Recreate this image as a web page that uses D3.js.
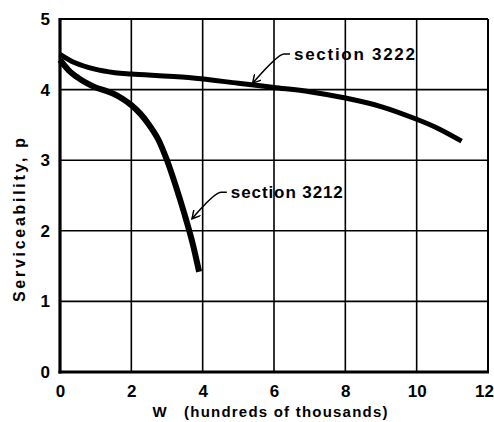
<!DOCTYPE html>
<html>
<head>
<meta charset="utf-8">
<script src="https://cdn.jsdelivr.net/npm/d3@7/dist/d3.min.js"></script>
<style>
  html, body { margin: 0; padding: 0; background: #fff; }
  svg { display: block; }
  text { font-family: "Liberation Sans", Arial, sans-serif; font-weight: bold; fill: #000; }
</style>
</head>
<body>
<svg id="chart" width="494" height="422"></svg>
<script>
// Load applications W (hundreds of thousands) and serviceability p
const w3222 = [0, 0.42, 0.98, 1.54, 2, 3.6, 5, 6, 7, 8, 9, 10, 10.6, 11.26];
const p3222 = [4.5, 4.38, 4.29, 4.24, 4.22, 4.17, 4.09, 4.03, 3.97, 3.88, 3.76, 3.58, 3.45, 3.27];

const w3212 = [0, 0.25, 0.5, 0.75, 1.0, 1.25, 1.5, 1.75, 2.0, 2.25, 2.5, 2.75, 3.0, 3.25, 3.5, 3.7, 3.9];
const p3212 = [4.42, 4.27, 4.17, 4.09, 4.03, 3.99, 3.94, 3.87, 3.78, 3.66, 3.5, 3.3, 3.0, 2.63, 2.22, 1.86, 1.42];

const xTicks = [0, 2, 4, 6, 8, 10, 12];
const yTicks = [0, 1, 2, 3, 4, 5];
const xTickLabels = ["0", "2", "4", "6", "8", "10", "12"];
const yTickLabels = ["0", "1", "2", "3", "4", "5"];

// Curve labels: text anchor and arrow tip, both in data units
const labelNames = ["section 3222", "section 3212"];
const labelW = [6.56, 4.79];
const labelP = [4.42, 2.46];
const tipW = [5.4, 3.7];
const tipP = [4.09, 2.17];

const svg = d3.select("#chart");
const x = d3.scaleLinear().domain([0, 12]).range([60, 488]);
const y = d3.scaleLinear().domain([0, 5]).range([372, 19]);

// grid
const grid = svg.append("g");
grid.selectAll("line.v").data(xTicks.slice(1, -1)).join("line")
  .attr("x1", d => x(d)).attr("x2", d => x(d))
  .attr("y1", y(5)).attr("y2", y(0))
  .attr("stroke", "#000").attr("stroke-width", 1.6);
grid.selectAll("line.h").data(yTicks.slice(1, -1)).join("line")
  .attr("x1", x(0)).attr("x2", x(12))
  .attr("y1", d => y(d)).attr("y2", d => y(d))
  .attr("stroke", "#000").attr("stroke-width", 1.6);

// frame: heavier left and bottom axes
svg.append("line").attr("x1", x(0)).attr("x2", x(12)).attr("y1", y(5)).attr("y2", y(5))
  .attr("stroke", "#000").attr("stroke-width", 2);
svg.append("line").attr("x1", x(12)).attr("x2", x(12)).attr("y1", y(5)).attr("y2", y(0))
  .attr("stroke", "#000").attr("stroke-width", 2);
svg.append("line").attr("x1", x(0)).attr("x2", x(0)).attr("y1", y(5) - 1).attr("y2", y(0) + 1.5)
  .attr("stroke", "#000").attr("stroke-width", 3.2);
svg.append("line").attr("x1", x(0) - 1.5).attr("x2", x(12) + 1).attr("y1", y(0)).attr("y2", y(0))
  .attr("stroke", "#000").attr("stroke-width", 3.2);

// tick labels
const xAxis = d3.axisBottom(x).tickValues(xTicks).tickSize(0).tickPadding(0)
  .tickFormat((d, i) => xTickLabels[i]);
const gx = svg.append("g").attr("transform", `translate(0,${y(0) + 13})`).call(xAxis);
gx.select(".domain").remove();
gx.selectAll("text").attr("font-size", 17).attr("font-family", "Liberation Sans")
  .attr("font-weight", "bold").attr("dy", "0.71em");
gx.selectAll(".tick").filter(d => d === 12).select("text").attr("dx", -4);

const yAxis = d3.axisLeft(y).tickValues(yTicks).tickSize(0).tickPadding(0)
  .tickFormat((d, i) => yTickLabels[i]);
const gy = svg.append("g").attr("transform", `translate(${x(0) - 10},0)`).call(yAxis);
gy.select(".domain").remove();
gy.selectAll("text").attr("font-size", 17).attr("font-family", "Liberation Sans").attr("font-weight", "bold");

// axis titles
svg.append("text").attr("x", 270).attr("y", 417).attr("text-anchor", "middle")
  .attr("font-size", 15).attr("textLength", 235).attr("lengthAdjust", "spacing")
  .attr("xml:space", "preserve")
  .text("W   (hundreds of thousands)");
svg.append("text").attr("transform", "translate(25,220) rotate(-90)")
  .attr("text-anchor", "middle").attr("font-size", 16)
  .attr("textLength", 164).attr("lengthAdjust", "spacing")
  .text("Serviceability, p");

// curves
const line = d3.line().x(d => x(d[0])).y(d => y(d[1])).curve(d3.curveCatmullRom.alpha(0.5));
svg.append("path").datum(w3222.map((w, i) => [w, p3222[i]]))
  .attr("d", line).attr("fill", "none").attr("stroke", "#000").attr("stroke-width", 5);
svg.append("path").datum(w3212.map((w, i) => [w, p3212[i]]))
  .attr("d", line).attr("fill", "none").attr("stroke", "#000").attr("stroke-width", 6);

// labels with leader arrows
svg.append("defs").append("marker")
  .attr("id", "arrow").attr("viewBox", "0 0 10 10").attr("refX", 9).attr("refY", 5)
  .attr("markerWidth", 9).attr("markerHeight", 9).attr("markerUnits", "userSpaceOnUse")
  .attr("orient", "auto")
  .append("path").attr("d", "M0,0 L9,5 L0,10").attr("fill", "none")
  .attr("stroke", "#000").attr("stroke-width", 1.6);

labelNames.forEach((name, i) => {
  const lx = x(labelW[i]), ly = y(labelP[i]);
  const tx = x(tipW[i]), ty = y(tipP[i]);
  svg.append("text").attr("x", lx).attr("y", ly).attr("font-size", 17)
    .attr("textLength", i === 0 ? 121 : 112).attr("lengthAdjust", "spacing")
    .text(name);
  const sx = lx - 4, sy = ly - 6;
  svg.append("path")
    .attr("d", `M${sx},${sy} L${sx - 6},${sy} Q${sx - 12},${sy} ${tx},${ty}`)
    .attr("fill", "none").attr("stroke", "#000").attr("stroke-width", 1.6)
    .attr("marker-end", "url(#arrow)");
});
</script>
</body>
</html>
